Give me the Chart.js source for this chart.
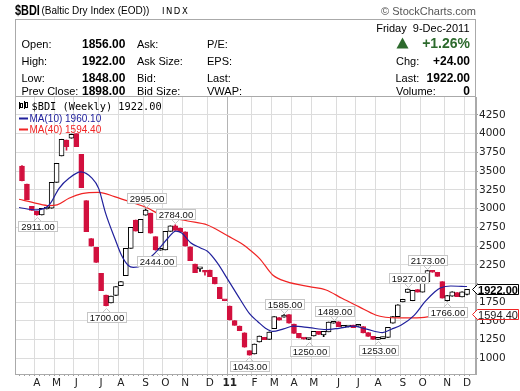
<!DOCTYPE html>
<html>
<head>
<meta charset="utf-8">
<script src="https://cdn.jsdelivr.net/npm/chart.js@4.4.0/dist/chart.umd.min.js"></script>
<style>
    html, body { margin: 0; padding: 0; background: #fff; }
    canvas { display: block; }
</style>
</head>
<body>
<canvas id="bdiChart" width="520" height="391"></canvas>
<script>
// weekly candles, week 0 = 19-Mar-2010 ... week 90 = 9-Dec-2011
const opens = [
    3569, 3329, 3030, 2965, 2915, 2995, 3005, 3351, 3703, 3916,
    3939, 4000, 3725, 3106, 2600, 2484, 2136, 1847, 1740, 1840,
    1972, 2104, 2470, 2848, 2680, 2911, 2940, 2625, 2444, 2448,
    2697, 2770, 2740, 2690, 2490, 2261, 2195, 2170, 2180, 2083,
    1950, 1782, 1700, 1504, 1433, 1343, 1103, 1059, 1219, 1282,
    1255, 1397, 1545, 1550, 1585, 1460, 1335, 1275, 1252, 1299,
    1362, 1315, 1355, 1470, 1490, 1415, 1420, 1445, 1430, 1425,
    1345, 1295, 1255, 1265, 1280, 1469, 1557, 1755, 1880, 1770,
    1920, 1885, 2025, 2170, 2150, 2025, 1770, 1830, 1880, 1820,
    1856
];
const closes = [
    3373, 3120, 2975, 2915, 3004, 3010, 3350, 3605, 3926, 3827,
    3990, 3827, 3279, 2692, 2500, 2280, 1904, 1705, 1833, 1958,
    2025, 2470, 2750, 2700, 2857, 2982, 2671, 2450, 2465, 2697,
    2770, 2710, 2690, 2500, 2305, 2145, 2198, 2150, 2090, 1994,
    1797, 1770, 1513, 1442, 1370, 1149, 1043, 1193, 1299, 1250,
    1353, 1557, 1510, 1580, 1470, 1335, 1275, 1258, 1265, 1362,
    1320, 1362, 1486, 1485, 1425, 1425, 1428, 1410, 1455, 1340,
    1295, 1255, 1265, 1285, 1416, 1557, 1717, 1790, 1925, 1910,
    1885, 2025, 2173, 2150, 2095, 1805, 1840, 1890, 1825, 1890,
    1922
];
const highs = [
    3575, 3329, 3030, 2965, 3004, 3010, 3350, 3605, 3926, 3916,
    3995, 4000, 3725, 3106, 2600, 2484, 2136, 1847, 1833, 1958,
    2025, 2470, 2750, 2848, 2857, 2995, 2940, 2625, 2465, 2697,
    2770, 2784, 2740, 2690, 2490, 2261, 2198, 2170, 2180, 2083,
    1950, 1782, 1700, 1504, 1433, 1343, 1103, 1193, 1299, 1282,
    1353, 1557, 1545, 1585, 1585, 1460, 1335, 1275, 1265, 1362,
    1362, 1362, 1486, 1489, 1490, 1425, 1428, 1445, 1455, 1425,
    1345, 1295, 1265, 1285, 1416, 1557, 1717, 1790, 1927, 1910,
    1920, 2025, 2173, 2170, 2150, 2025, 1840, 1890, 1880, 1890,
    1922
];
const lows = [
    3370, 3120, 2975, 2911, 2915, 2995, 3005, 3351, 3703, 3780,
    3939, 3827, 3279, 2692, 2500, 2280, 1904, 1700, 1740, 1840,
    1972, 2104, 2470, 2700, 2680, 2911, 2671, 2444, 2444, 2448,
    2697, 2710, 2690, 2500, 2305, 2145, 2160, 2110, 2090, 1994,
    1797, 1770, 1513, 1442, 1370, 1149, 1043, 1059, 1219, 1250,
    1255, 1397, 1510, 1550, 1470, 1335, 1275, 1258, 1250, 1299,
    1320, 1290, 1355, 1470, 1425, 1415, 1420, 1410, 1430, 1340,
    1295, 1255, 1253, 1265, 1280, 1469, 1557, 1755, 1880, 1770,
    1885, 1885, 2025, 2150, 2095, 1805, 1766, 1830, 1825, 1820,
    1848
];

// moving averages (week position, value)
const ma10Weeks = [-0.6, 2.9, 5.5, 7.5, 9.5, 11.9, 14.1, 15.5, 16.9, 18.9, 20.1, 21.5, 22.5, 24.1, 25.5,
    27.5, 29.5, 31.1, 32.3, 34.1, 36.1, 37.5, 39.5, 41.7, 44.1, 46.1, 47.7, 49.3, 50.7, 52.9, 54.9,
    58.1, 61.5, 64.1, 67.1, 69.7, 72.9, 74.7, 76.7, 79.3, 81.5, 83.5, 84.7, 86.7, 90];
const ma10Values = [3015, 2982, 3048, 3271, 3405, 3490, 3410, 3270, 2940, 2580, 2380, 2240, 2215, 2234, 2320,
    2450, 2604, 2700, 2675, 2545, 2475, 2430, 2275, 2045, 1790, 1590, 1490, 1400, 1360, 1395, 1430,
    1410, 1385, 1402, 1430, 1390, 1345, 1390, 1446, 1575, 1757, 1891, 1944, 1967, 1960.1];
const ma40Weeks = [-0.6, 2.9, 5.5, 7.1, 9.5, 12.1, 15.5, 18.7, 22.7, 25.5, 28.1, 33.5, 37.5, 39.1, 41.5,
    44.3, 45.5, 48.1, 50.7, 53.5, 58.1, 61.5, 64.7, 68.1, 71.5, 73.5, 76.1, 80.7, 83.5, 86.7, 90];
const ma40Values = [3125, 3071, 3040, 3050, 3138, 3200, 3218, 3160, 3071, 3004, 2915, 2835, 2781, 2730, 2640,
    2537, 2480, 2330, 2114, 2025, 1958, 1914, 1803, 1691, 1580, 1550, 1540, 1545, 1570, 1585, 1594.4];

// axes
const monthWeeks = [3, 7, 11, 16, 20, 25, 29, 33, 38, 42, 47, 51, 55, 59, 64, 68, 72, 77, 81, 86, 90];
const monthLabels = ['A', 'M', 'J', 'J', 'A', 'S', 'O', 'N', 'D', '11', 'F', 'M', 'A', 'M', 'J', 'J', 'A', 'S', 'O', 'N', 'D'];
const yearWeek = 42;
const yTicks = [1000, 1250, 1500, 1750, 2000, 2250, 2500, 2750, 3000, 3250, 3500, 3750, 4000, 4250];

// high / low call-outs
const tagWeeks = [3, 17, 25, 27, 31, 46, 53, 58, 63, 72, 78, 82, 86];
const tagSides = ['low', 'low', 'high', 'low', 'high', 'low', 'high', 'low', 'high', 'low', 'high', 'high', 'low'];

// quote header
const quoteLabels = ['Open:', 'High:', 'Low:', 'Prev Close:'];
const quoteValues = [1856, 1922, 1848, 1898];
const bidLabels = ['Ask:', 'Ask Size:', 'Bid:', 'Bid Size:'];
const ratioLabels = ['P/E:', 'EPS:', 'Last:', 'VWAP:'];
const quoteDate = 'Friday  9-Dec-2011';
const changePct = '+1.26%';
const changeAbs = '+24.00';
const volume = '0';

const RED = '#d2103e';
const BLUE = '#20209c';
const MA_RED = '#f02424';
const SANS = '"Liberation Sans", Arial, sans-serif';

const rowBase = [48.3, 65, 81.7, 95];

const text = (ctx, s, x, y, font, color, align) => {
    ctx.font = font;
    ctx.fillStyle = color;
    ctx.textAlign = align || 'left';
    ctx.textBaseline = 'alphabetic';
    ctx.fillText(s, x, y);
}

const drawTag = (ctx, x, y, label, above) => {
    ctx.font = '9.5px ' + SANS;
    const w = Math.round(ctx.measureText(label).width) + 5;
    const h = 10;
    const left = Math.round(x - w / 2) + 0.5;
    const top = above ? Math.round(y) - 6 - h + 0.5 : Math.round(y) + 6 + 0.5;
    ctx.strokeStyle = '#c6c6c6';
    ctx.lineWidth = 1;
    ctx.beginPath();
    if (above) {
        ctx.moveTo(x - 4, top + h);
        ctx.lineTo(x, top + h + 4);
        ctx.lineTo(x + 4, top + h);
    } else {
        ctx.moveTo(x - 4, top);
        ctx.lineTo(x, top - 4);
        ctx.lineTo(x + 4, top);
    }
    ctx.stroke();
    ctx.fillStyle = '#fff';
    ctx.fillRect(left, top, w, h);
    ctx.strokeRect(left, top, w, h);
    text(ctx, label, left + w / 2, top + h - 1.5, '9.5px ' + SANS, '#111', 'center');
}

const drawFlag = (ctx, y, label, border, font, color) => {
    const yy = Math.round(y) + 0.5;
    ctx.beginPath();
    ctx.moveTo(472.5, yy);
    ctx.lineTo(477.5, yy - 5);
    ctx.lineTo(518.5, yy - 5);
    ctx.lineTo(518.5, yy + 5);
    ctx.lineTo(477.5, yy + 5);
    ctx.closePath();
    ctx.fillStyle = '#fff';
    ctx.fill();
    ctx.strokeStyle = border;
    ctx.lineWidth = 1;
    ctx.stroke();
    text(ctx, label, 498, yy + 4, font, color, 'center');
}

const overlay = {
    id: 'overlay',
    afterDraw(chart) {
        const ctx = chart.ctx;
        const xs = chart.scales.x;
        const ys = chart.scales.y;
        const area = chart.chartArea;
        const last = closes.length - 1;
        ctx.save();

        // title line, the ticker is set in a narrow bold face
        ctx.save();
        ctx.translate(15, 14.5);
        ctx.scale(0.78, 1);
        text(ctx, '$BDI', 0, 0, 'bold 14px ' + SANS, '#000');
        ctx.restore();
        text(ctx, '(Baltic Dry Index (EOD))', 41.5, 14, '10px ' + SANS, '#000');
        ctx.letterSpacing = '1.5px';
        text(ctx, 'INDX', 162, 13.5, '8.5px "DejaVu Sans", sans-serif', '#000');
        ctx.letterSpacing = '0px';
        text(ctx, '\u00a9 StockCharts.com', 476, 15, '11px ' + SANS, '#555', 'right');

        // frames
        ctx.strokeStyle = '#aaa';
        ctx.lineWidth = 1;
        ctx.strokeRect(15.5, 19.5, 460, 77);
        ctx.strokeRect(15.5, 96.5, 460, area.bottom - 96);

        // quote block
        quoteLabels.forEach((l, i) => {
            text(ctx, l, 21.5, rowBase[i], '11px ' + SANS, '#000');
            text(ctx, quoteValues[i].toFixed(2), 82, rowBase[i], 'bold 12px ' + SANS, '#000');
            text(ctx, bidLabels[i], 137, rowBase[i], '11px ' + SANS, '#000');
            text(ctx, ratioLabels[i], 207, rowBase[i], '11px ' + SANS, '#000');
        });
        text(ctx, quoteDate, 469.5, 32, '11px ' + SANS, '#000', 'right');
        ctx.fillStyle = '#2d6a2d';
        ctx.beginPath();
        ctx.moveTo(402.5, 37.5);
        ctx.lineTo(408.5, 48.5);
        ctx.lineTo(396.5, 48.5);
        ctx.closePath();
        ctx.fill();
        text(ctx, changePct, 470, 48.3, 'bold 14px ' + SANS, '#2d6a2d', 'right');
        text(ctx, 'Chg:', 396, rowBase[1], '11px ' + SANS, '#000');
        text(ctx, changeAbs, 470, rowBase[1], 'bold 12px ' + SANS, '#000', 'right');
        text(ctx, 'Last:', 395.5, rowBase[2], '11px ' + SANS, '#000');
        text(ctx, closes[last].toFixed(2), 470, rowBase[2], 'bold 12px ' + SANS, '#000', 'right');
        text(ctx, 'Volume:', 396, rowBase[3], '11px ' + SANS, '#000');
        text(ctx, volume, 470, rowBase[3], 'bold 12px ' + SANS, '#000', 'right');

        // legend
        ctx.fillStyle = '#000';
        ctx.fillRect(19, 102, 1, 7);
        ctx.strokeStyle = '#000';
        ctx.strokeRect(20.5, 103.5, 2, 4);
        ctx.fillRect(24, 101, 1, 8);
        ctx.strokeRect(25.5, 102.5, 2, 5);
        text(ctx, '$BDI (Weekly) ' + closes[last].toFixed(2), 31.5, 109.5, '10.3px "DejaVu Sans Mono", monospace', '#000');
        ctx.lineWidth = 2;
        ctx.strokeStyle = BLUE;
        ctx.beginPath();
        ctx.moveTo(19, 118.5);
        ctx.lineTo(28, 118.5);
        ctx.stroke();
        text(ctx, 'MA(10) ' + ma10Values[ma10Values.length - 1].toFixed(2), 29.5, 121.8, '10px ' + SANS, BLUE);
        ctx.strokeStyle = MA_RED;
        ctx.beginPath();
        ctx.moveTo(19, 129.5);
        ctx.lineTo(28, 129.5);
        ctx.stroke();
        text(ctx, 'MA(40) ' + ma40Values[ma40Values.length - 1].toFixed(2), 29.5, 132.8, '10px ' + SANS, MA_RED);

        // call-outs
        tagWeeks.forEach((w, i) => {
            const above = tagSides[i] === 'high';
            const v = above ? highs[w] : lows[w];
            drawTag(ctx, Math.round(xs.getPixelForValue(w)) + 0.5, ys.getPixelForValue(v), v.toFixed(2), above);
        });

        // last value flags
        drawFlag(ctx, ys.getPixelForValue(ma40Values[ma40Values.length - 1]),
            ma40Values[ma40Values.length - 1].toFixed(2), MA_RED, '11px ' + SANS, '#222');
        drawFlag(ctx, ys.getPixelForValue(closes[last]), closes[last].toFixed(2), '#000', 'bold 11px ' + SANS, '#000');

        ctx.restore();
    }
};

const isUp = i => closes[i] >= opens[i];

new Chart(document.getElementById('bdiChart').getContext('2d'), {
    type: 'bar',
    data: {
        datasets: [
            {
                type: 'line',
                label: 'MA(10)',
                data: ma10Weeks.map((w, i) => ({ x: w, y: ma10Values[i] })),
                borderColor: BLUE,
                borderWidth: 1.2,
                pointRadius: 0,
                cubicInterpolationMode: 'monotone',
                order: 0
            },
            {
                type: 'line',
                label: 'MA(40)',
                data: ma40Weeks.map((w, i) => ({ x: w, y: ma40Values[i] })),
                borderColor: MA_RED,
                borderWidth: 1.2,
                pointRadius: 0,
                cubicInterpolationMode: 'monotone',
                order: 1
            },
            {
                label: 'Body',
                data: opens.map((o, i) => ({ x: i, y: [o, closes[i]] })),
                backgroundColor: c => isUp(c.dataIndex) ? '#fff' : RED,
                borderColor: c => isUp(c.dataIndex) ? '#000' : RED,
                borderWidth: 1,
                borderSkipped: false,
                barThickness: 5,
                minBarLength: 2,
                grouped: false,
                order: 2
            },
            {
                label: 'Range',
                data: highs.map((h, i) => ({ x: i, y: [lows[i], h] })),
                backgroundColor: c => isUp(c.dataIndex) ? '#000' : RED,
                borderWidth: 0,
                barThickness: 1,
                grouped: false,
                order: 3
            }
        ]
    },
    options: {
        responsive: false,
        animation: false,
        layout: {
            padding: { left: 16, top: 97, right: 0, bottom: 0 }
        },
        plugins: {
            legend: { display: false },
            tooltip: { enabled: false }
        },
        scales: {
            x: {
                type: 'linear',
                min: -0.7,
                max: 91.3,
                afterBuildTicks: scale => {
                    scale.ticks = opens.map((_, i) => ({ value: i }));
                },
                afterFit: scale => {
                    scale.height = 17;
                },
                grid: {
                    color: c => {
                        const v = c.tick ? c.tick.value : -1;
                        if (v === yearWeek)
                            return '#b4b4b4';
                        return monthWeeks.includes(v) ? '#dcdcdc' : 'rgba(0,0,0,0)';
                    },
                    tickColor: '#a0a0a0',
                    tickLength: 2
                },
                border: { color: '#aaa' },
                ticks: {
                    autoSkip: false,
                    maxRotation: 0,
                    padding: 1,
                    color: '#222',
                    callback: v => {
                        const i = monthWeeks.indexOf(v);
                        return i < 0 ? '' : monthLabels[i];
                    },
                    font: c => ({
                        family: '"DejaVu Sans", sans-serif',
                        size: 10.5,
                        weight: c.tick && c.tick.value === yearWeek ? 'bold' : 'normal'
                    })
                }
            },
            y: {
                type: 'linear',
                position: 'right',
                min: 792,
                max: 4490,
                afterBuildTicks: scale => {
                    scale.ticks = yTicks.map(v => ({ value: v }));
                },
                afterFit: scale => {
                    scale.width = 44;
                },
                grid: {
                    color: '#dcdcdc',
                    tickColor: '#999',
                    tickLength: 2
                },
                border: { color: '#aaa' },
                ticks: {
                    padding: 1,
                    color: '#222',
                    callback: v => Math.abs(v - closes[closes.length - 1]) < 100 ? '' : String(v),
                    font: {
                        family: '"DejaVu Sans", sans-serif',
                        size: 10.5
                    }
                }
            }
        }
    },
    plugins: [overlay]
});
</script>
</body>
</html>
